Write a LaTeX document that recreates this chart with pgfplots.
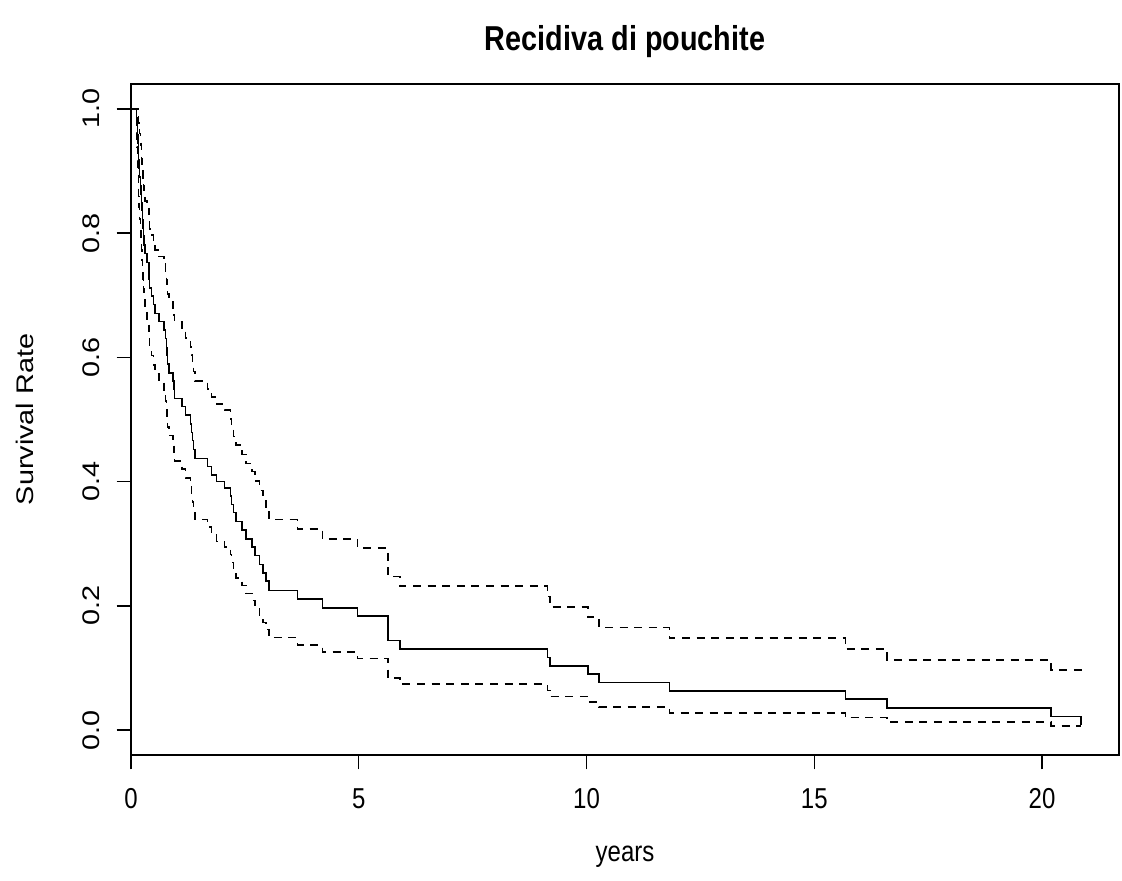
\documentclass[border=0pt]{standalone}
\usepackage{pgfplots}
\pgfplotsset{compat=1.18}
\usepackage{pgfplotstable}
\usepackage{fontspec}
\setmainfont{Liberation Sans}
\newfontfamily\horfam[FakeStretch=0.8333]{Liberation Sans}
\newfontfamily\rotfam[FakeStretch=1.2]{Liberation Sans}
\newcommand\horfont{\horfam\fontsize{14.4}{17}\selectfont}
\newcommand\rotfont{\rotfam\fontsize{12}{14}\selectfont}

\pgfplotstableread{
t s up lo
0.00 1.000 1.000 1.000
0.12 0.986 1.000 0.961
0.13 0.973 1.000 0.939
0.14 0.959 1.000 0.917
0.15 0.945 0.994 0.896
0.16 0.932 0.987 0.878
0.17 0.918 0.978 0.859
0.18 0.904 0.969 0.841
0.19 0.890 0.960 0.823
0.21 0.877 0.951 0.807
0.22 0.863 0.941 0.790
0.23 0.849 0.920 0.773
0.24 0.836 0.911 0.757
0.25 0.822 0.900 0.741
0.26 0.808 0.889 0.725
0.27 0.795 0.876 0.710
0.29 0.781 0.864 0.694
0.31 0.767 0.852 0.678
0.35 0.753 0.842 0.662
0.39 0.740 0.830 0.648
0.40 0.726 0.818 0.633
0.41 0.712 0.807 0.617
0.45 0.699 0.797 0.603
0.49 0.685 0.785 0.588
0.53 0.671 0.773 0.573
0.62 0.658 0.762 0.560
0.72 0.644 0.750 0.545
0.76 0.630 0.737 0.530
0.78 0.616 0.725 0.516
0.79 0.603 0.713 0.503
0.80 0.589 0.702 0.488
0.83 0.575 0.690 0.474
0.92 0.562 0.679 0.461
0.94 0.548 0.667 0.447
0.96 0.534 0.657 0.433
1.12 0.521 0.644 0.420
1.20 0.507 0.631 0.406
1.31 0.493 0.617 0.393
1.33 0.479 0.604 0.379
1.35 0.466 0.591 0.367
1.37 0.452 0.577 0.353
1.40 0.437 0.562 0.339
1.68 0.424 0.549 0.327
1.77 0.411 0.536 0.314
1.88 0.400 0.525 0.304
2.05 0.390 0.515 0.295
2.18 0.377 0.501 0.283
2.21 0.363 0.487 0.270
2.25 0.350 0.473 0.258
2.30 0.336 0.459 0.245
2.44 0.322 0.444 0.233
2.52 0.308 0.429 0.220
2.66 0.295 0.416 0.209
2.72 0.281 0.401 0.197
2.82 0.267 0.386 0.185
2.90 0.253 0.370 0.173
2.96 0.240 0.356 0.162
3.03 0.225 0.339 0.149
3.65 0.211 0.324 0.137
4.20 0.197 0.308 0.126
4.97 0.184 0.293 0.115
5.64 0.144 0.247 0.084
5.90 0.131 0.232 0.074
9.14 0.117 0.215 0.064
9.20 0.103 0.198 0.054
10.03 0.090 0.182 0.045
10.27 0.077 0.165 0.037
11.82 0.063 0.148 0.028
15.68 0.050 0.131 0.020
16.60 0.036 0.113 0.013
20.20 0.022 0.097 0.007
20.86 0.022 0.097 0.007
20.86 0.008 0.093 0.007
}\km

\begin{document}
\begin{tikzpicture}[x=1pt,y=1pt]
\path[use as bounding box] (0,0) rectangle (561,440);
\begin{axis}[
  at={(65.5pt,62.5pt)}, anchor=south west,
  width=494pt, height=335.5pt, scale only axis,
  xmin=0, xmax=21.69, ymin=-0.04, ymax=1.04,
  xtick={0,5,10,15,20}, xticklabels={0,5,10,15,20},
  ytick={0,0.2,0.4,0.6,0.8,1.0},
  yticklabels={0.0,0.2,0.4,0.6,0.8,1.0},
  tick pos=left, tick align=outside,
  major tick length=7.2pt,
  tick style={black, line width=0.7pt},
  axis line style={black, line width=0.8pt},
  xticklabel style={font=\horfont, anchor=north, yshift=-6pt},
  yticklabel style={font=\rotfont, xshift=-5pt, rotate=90, anchor=south},
  clip=false,
]
\addplot[const plot, black, line width=0.75pt] table[x=t, y=s] {\km};
\addplot[const plot, black, line width=0.75pt, dash pattern=on 4pt off 3.3pt] table[x=t, y=up] {\km};
\addplot[const plot, black, line width=0.75pt, dash pattern=on 4pt off 3.3pt] table[x=t, y=lo] {\km};
\end{axis}
\node at (312.5,419) {\horfam\bfseries\fontsize{17.28}{20}\selectfont Recidiva di pouchite};
\node at (312.5,11.5) {\horfont years};
\node[rotate=90] at (12.5,230.25) {\rotfont Survival Rate};
\end{tikzpicture}
\end{document}
